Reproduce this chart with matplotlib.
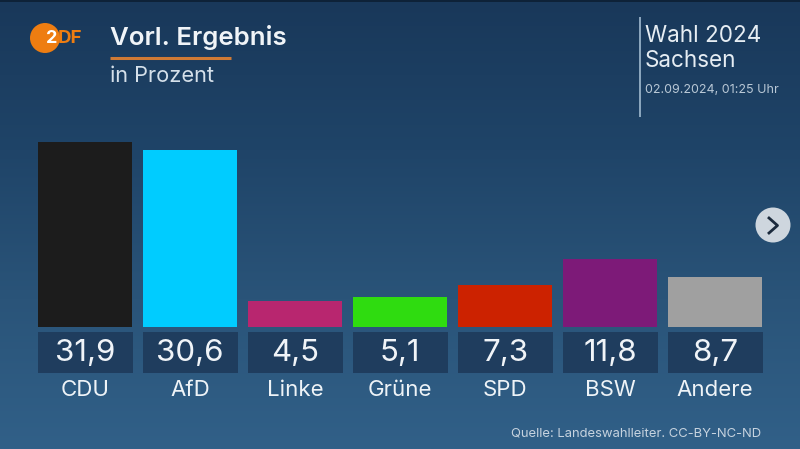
import numpy as np
import matplotlib
matplotlib.use("Agg")
import matplotlib.pyplot as plt
from matplotlib.patches import Circle, Rectangle

plt.rcParams['font.family'] = ['Inter', 'DejaVu Sans']

parties = ["CDU", "AfD", "Linke", "Grüne", "SPD", "BSW", "Andere"]
values = [31.9, 30.6, 4.5, 5.1, 7.3, 11.8, 8.7]
value_labels = ["31,9", "30,6", "4,5", "5,1", "7,3", "11,8", "8,7"]
colors = ["#1c1c1c", "#00ccff", "#b8266f", "#2fdc10", "#cc2200", "#7d1a78", "#a0a0a0"]

W, H = 800, 449
fig = plt.figure(figsize=(W / 100, H / 100), dpi=100)

# overlay in pixel coordinates for background and header
bg = fig.add_axes([0, 0, 1, 1])
bg.set_xlim(0, W)
bg.set_ylim(H, 0)
bg.axis("off")
grad = np.linspace(0, 1, 256).reshape(-1, 1)
cmap = matplotlib.colors.LinearSegmentedColormap.from_list(
    "bg", ["#19385a", "#1f4468", "#2a5479", "#316088"])
bg.imshow(grad, cmap=cmap, extent=[0, W, H, 0], aspect="auto", zorder=0)
bg.set_xlim(0, W)
bg.set_ylim(H, 0)
bg.add_patch(Rectangle((0, 0), W, 2, fc="#0e2238", lw=0, zorder=1))

# logo
bg.add_patch(Circle((45, 38), 15, fc="#ee7d11", lw=0, zorder=2))
bg.text(46, 38.5, "2", color="white", fontsize=13, fontweight="bold", ha="left", va="center", zorder=3)
bg.text(57.5, 38.5, "DF", color="#ee7d11", fontsize=13.5, fontweight="bold", ha="left", va="center", zorder=3)

# header
bg.text(110, 37, "Vorl. Ergebnis", color="#f0f4f8", fontsize=18.6, fontweight="semibold", va="center")
bg.plot([110, 230.5], [57.5, 57.5], color="#d07a35", lw=2.2, solid_capstyle="butt")
bg.text(110, 76.5, "in Prozent", color="#d5e0ea", fontsize=15.7, va="center")

bg.plot([639.5, 639.5], [17, 117], color="#8fa9c0", lw=1.4, solid_capstyle="butt")
bg.text(645, 36, "Wahl 2024", color="#e6edf3", fontsize=16.2, va="center")
bg.text(645, 61, "Sachsen", color="#e6edf3", fontsize=16.2, va="center")
bg.text(645, 90, "02.09.2024, 01:25 Uhr", color="#b9c8d6", fontsize=9, va="center")

# bars, the axes is scaled so that one percent is 5.8 px
ax = fig.add_axes([38 / W, 1 - 327 / H, (762 - 38) / W, 200 / H])
ax.patch.set_alpha(0)
ax.bar(range(len(values)), values, width=94.5 / 105, color=colors)
ax.set_xlim(-0.45, 6.45)
ax.set_ylim(0, 200 / 5.8)
ax.axis("off")

# value boxes and names under the bars
for i, (name, lab) in enumerate(zip(parties, value_labels)):
    x0 = 38 + 105 * i
    bg.add_patch(Rectangle((x0, 332.3), 94.5, 41, fc="#1f3d5e", lw=0, zorder=2))
    bg.text(x0 + 47.2, 353.5, lab, color="#f0f4f8", fontsize=22.5, ha="center", va="center", zorder=3)
    bg.text(x0 + 47.2, 390.5, name, color="#eef3f7", fontsize=16, ha="center", va="center", zorder=3)

# arrow button
bg.add_patch(Circle((773, 225), 17.5, fc="#ced6de", lw=0, zorder=3))
bg.plot([769, 777.5, 769], [218, 225.5, 233], color="#1b2a3c", lw=2, zorder=4)

bg.text(761.5, 433.5, "Quelle: Landeswahlleiter. CC-BY-NC-ND", color="#c6d3df", fontsize=9.4, ha="right", va="center")

fig.savefig("out.png", dpi=100)
